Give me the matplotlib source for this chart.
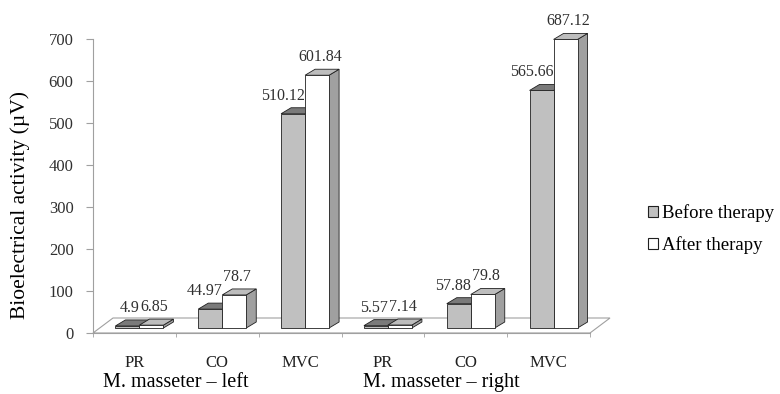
import numpy as np
import matplotlib.pyplot as plt
from matplotlib.patches import Polygon, Patch

plt.rcParams['font.family'] = ['Liberation Serif', 'DejaVu Serif']

# data
categories = ['PR', 'CO', 'MVC', 'PR', 'CO', 'MVC']
groups = ['M. masseter \u2013 left', 'M. masseter \u2013 right']
before = [4.9, 44.97, 510.12, 5.57, 57.88, 565.66]
after = [6.85, 78.7, 601.84, 7.14, 79.8, 687.12]
labels_before = ['4.9', '44.97', '510.12', '5.57', '57.88', '565.66']
labels_after = ['6.85', '78.7', '601.84', '7.14', '79.8', '687.12']

fig = plt.figure(figsize=(7.8, 3.94), dpi=100)
ax = fig.add_axes([93/780, 61/394, 497/780, 294/394])
ax.set_xlim(0, 6)
ax.set_ylim(0, 700)

# pixel -> data unit helpers
px = 6 / 497
py = 700 / 294

# floor
fdx, fdy = 20 * px, 15 * py
floor = Polygon([(0, 0), (6, 0), (6 + fdx, fdy), (fdx, fdy)], closed=True,
                facecolor='white', edgecolor='#a0a0a0', lw=0.8, clip_on=False, zorder=1)
ax.add_patch(floor)

bdx, bdy = 10 * px, 6 * py
base = 5 * py


def bar3d(x0, x1, h, front, top, side):
    y0, y1 = base, base + h
    kw = dict(closed=True, edgecolor='#202020', lw=0.6, clip_on=False, zorder=3)
    ax.add_patch(Polygon([(x1, y0), (x1 + bdx, y0 + bdy), (x1 + bdx, y1 + bdy), (x1, y1)],
                         facecolor=side, **kw))
    ax.add_patch(Polygon([(x0, y1), (x1, y1), (x1 + bdx, y1 + bdy), (x0 + bdx, y1 + bdy)],
                         facecolor=top, **kw))
    ax.add_patch(Polygon([(x0, y0), (x1, y0), (x1, y1), (x0, y1)],
                         facecolor=front, **kw))


for i in range(len(categories)):
    c = i + 0.5
    g0, g1 = c - 19 * px, c + 5 * px
    w0, w1 = g1, c + 29 * px
    bar3d(g0, g1, before[i], '#c0c0c0', '#7a7a7a', '#8c8c8c')
    bar3d(w0, w1, after[i], 'white', '#bdbdbd', '#a0a0a0')
    ax.text(g1, base + before[i] + bdy + 4 * py, labels_before[i], ha='right', va='bottom',
            fontsize=11.5, color='#303030', zorder=5)
    ax.text((w0 + w1) / 2 + 3 * px, base + after[i] + bdy + 4 * py, labels_after[i],
            ha='center', va='bottom', fontsize=11.5, color='#303030', zorder=5)

# axes styling
for s in ['top', 'right']:
    ax.spines[s].set_visible(False)
ax.spines['left'].set_color('#a0a0a0')
ax.spines['bottom'].set_color('#a0a0a0')
ax.set_yticks(np.arange(0, 701, 100))
ax.tick_params(axis='y', colors='#a0a0a0', labelcolor='#303030', labelsize=12,
               length=5, pad=9)
ax.set_xticks(np.arange(len(categories)) + 0.5, categories)
ax.tick_params(axis='x', which='major', length=0, pad=16, labelsize=12, labelcolor='#202020')
ax.set_xticks(np.arange(0, 7), minor=True)
ax.tick_params(axis='x', which='minor', length=3, colors='#a0a0a0')

tr = ax.get_xaxis_transform()
ax.text(1.0, -0.17, groups[0], transform=tr, ha='center', va='center', fontsize=14.5)
ax.text(4.2, -0.17, groups[1], transform=tr, ha='center', va='center', fontsize=14.5)

fig.text(20/780, 1 - 205/394, 'Bioelectrical activity (\u00b5V)', rotation=90,
         ha='center', va='center', fontsize=15.5)

handles = [Patch(facecolor='#c0c0c0', edgecolor='#202020', lw=0.8),
           Patch(facecolor='white', edgecolor='#202020', lw=0.8)]
fig.legend(handles, ['Before therapy', 'After therapy'], loc='upper left',
           bbox_to_anchor=(648/780, 1 - 204/394), frameon=False, fontsize=13.5,
           handlelength=0.55, handleheight=0.55, handletextpad=0.2,
           labelspacing=0.75, borderpad=0, borderaxespad=0)

fig.savefig('out.png', dpi=100)
